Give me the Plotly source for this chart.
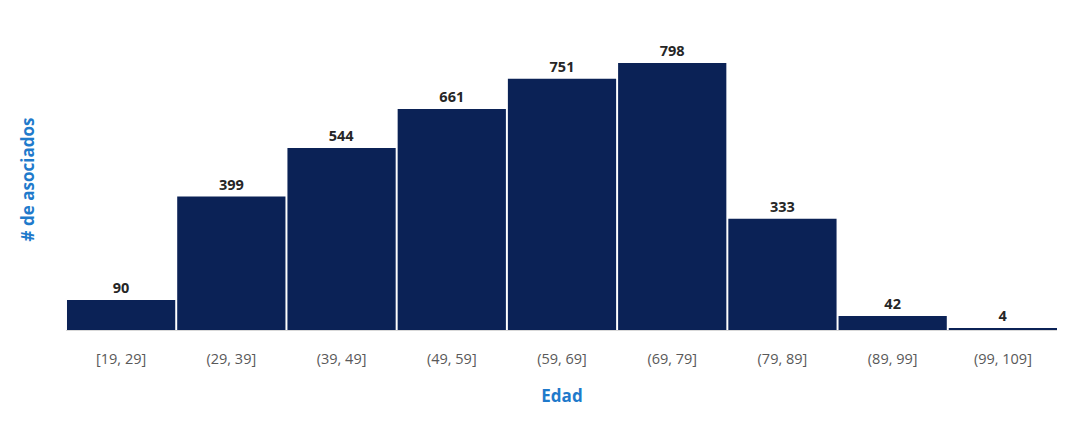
import plotly.graph_objects as go

categories = ["[19, 29]", "(29, 39]", "(39, 49]", "(49, 59]", "(59, 69]",
              "(69, 79]", "(79, 89]", "(89, 99]", "(99, 109]"]
values = [90, 399, 544, 661, 751, 798, 333, 42, 4]

fig = go.Figure(go.Bar(
    x=categories, y=values,
    marker=dict(color="#0B2256", line=dict(width=0)),
    text=[str(v) for v in values], textposition="outside",
    textfont=dict(family="Open Sans", size=14.5, color="#262626"),
    texttemplate="<b>%{text}</b>",
    cliponaxis=False,
))

fig.update_layout(
    width=1057, height=422,
    margin=dict(l=58, r=7, t=21, b=100),
    paper_bgcolor="white", plot_bgcolor="white",
    bargap=0.018,
    showlegend=False,
    xaxis=dict(
        automargin=False,
        showline=True, linecolor="#d9d9d9", linewidth=1,
        ticks="", ticklabelstandoff=16,
        tickfont=dict(family="Open Sans", size=14.5, color="#595959"),
        title=dict(text="<b>Edad</b>", font=dict(family="Open Sans", size=17, color="#1F7ACB"), standoff=22),
        showgrid=False,
    ),
    yaxis=dict(
        automargin=False,
        range=[0, 900], showticklabels=False, showgrid=False, zeroline=False, ticks="",
        title=dict(text="<b># de asociados</b>", font=dict(family="Open Sans", size=17, color="#1F7ACB"), standoff=26),
    ),
)

fig.write_html("out.html")
